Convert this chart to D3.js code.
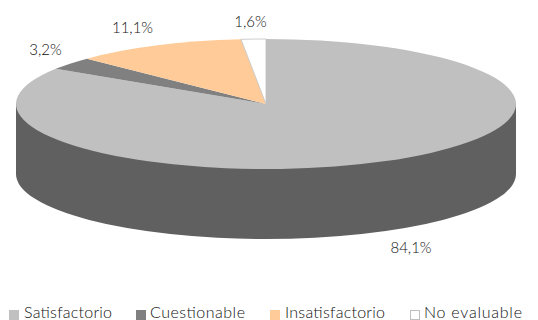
<!DOCTYPE html>
<html>
<head>
<meta charset="utf-8">
<script src="https://cdn.jsdelivr.net/npm/d3@7"></script>
<style>
  body { margin: 0; background: #fff; }
  text { font-family: "Lato", sans-serif; font-weight: 300; fill: #111; }
</style>
</head>
<body>
<div id="chart-area"></div>
<script>
const categories = ["Satisfactorio", "Cuestionable", "Insatisfactorio", "No evaluable"]
const values = [84.1, 3.2, 11.1, 1.6]
const valueLabels = ["84,1%", "3,2%", "11,1%", "1,6%"]
const colors = ["#c0c0c0", "#808080", "#ffcc99", "#ffffff"]

const w = 538
const h = 320
const cx = 266
const cy = 104
const rx = 250
const ry = 65
const depth = 70

const svg = d3.select("#chart-area")
  .append("svg")
  .attr("width", w)
  .attr("height", h)
  .style("display", "block")

const pie = d3.pie().sort(null).value(d => d)
const arc = d3.arc().innerRadius(0).outerRadius(1)
const slices = pie(values)

// side wall: bottom ellipse plus the band up to the top face
const side = svg.append("g").attr("fill", "#606060")
side.append("path")
  .attr("transform", `translate(${cx},${cy + depth}) scale(${rx},${ry})`)
  .attr("d", arc({ startAngle: 0, endAngle: 2 * Math.PI }))
side.append("rect")
  .attr("x", cx - rx)
  .attr("y", cy)
  .attr("width", 2 * rx)
  .attr("height", depth)

// top face
svg.append("g")
  .attr("transform", `translate(${cx},${cy}) scale(${rx},${ry})`)
  .selectAll("path")
  .data(slices)
  .enter()
  .append("path")
  .attr("d", arc)
  .attr("fill", (d, i) => colors[i])
  .attr("stroke", (d, i) => i === 3 ? "#c0c0c0" : "none")
  .attr("stroke-width", 0.8)
  .attr("vector-effect", "non-scaling-stroke")

// value labels, hand placed next to their slices
const labelPos = [[411, 253], [45.5, 55], [132.5, 33], [250.5, 27]]
svg.selectAll(".value-label")
  .data(valueLabels)
  .enter()
  .append("text")
  .attr("class", "value-label")
  .attr("x", (d, i) => labelPos[i][0])
  .attr("y", (d, i) => labelPos[i][1])
  .attr("text-anchor", "middle")
  .attr("font-size", 15)
  .text(d => d)

// legend
const legendBox = [9, 136, 270, 410]
const legendText = [24, 150, 285, 424]
const legendWidth = [88, 95, 100, 98]
svg.selectAll(".legend-item")
  .data(categories)
  .enter()
  .append("rect")
  .attr("class", "legend-item")
  .attr("x", (d, i) => legendBox[i] + (i === 3 ? 0.5 : 0))
  .attr("y", (d, i) => i === 3 ? 310.5 : 310)
  .attr("width", (d, i) => i === 3 ? 9 : 10)
  .attr("height", (d, i) => i === 3 ? 9 : 10)
  .attr("fill", (d, i) => colors[i])
  .attr("stroke", (d, i) => i === 3 ? "#c0c0c0" : "none")

svg.selectAll(".legend-text")
  .data(categories)
  .enter()
  .append("text")
  .attr("class", "legend-text")
  .attr("x", (d, i) => legendText[i])
  .attr("y", 318)
  .attr("font-size", 16)
  .attr("textLength", (d, i) => legendWidth[i])
  .attr("lengthAdjust", "spacing")
  .text(d => d)
</script>
</body>
</html>
